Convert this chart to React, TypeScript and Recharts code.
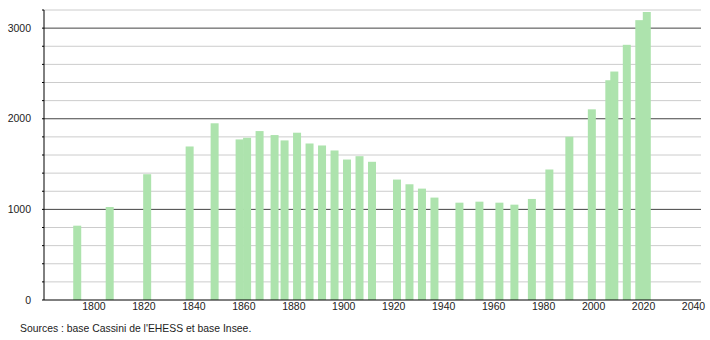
import React from 'react';
import {
    BarChart, Bar, XAxis, YAxis, CartesianGrid
} from 'recharts';

// census years and population
const years = [
    1793, 1806, 1821, 1838, 1848, 1858, 1861, 1866, 1872, 1876,
    1881, 1886, 1891, 1896, 1901, 1906, 1911, 1921, 1926, 1931,
    1936, 1946, 1954, 1962, 1968, 1975, 1982, 1990, 1999, 2006,
    2008, 2013, 2018, 2021
];
const population = [
    820, 1026, 1388, 1694, 1950, 1772, 1790, 1864, 1820, 1761,
    1846, 1727, 1705, 1650, 1550, 1587, 1525, 1329, 1277, 1229,
    1130, 1074, 1085, 1074, 1052, 1115, 1440, 1802, 2104, 2425,
    2521, 2816, 3088, 3178
];
const xTicks = [1800, 1820, 1840, 1860, 1880, 1900, 1920, 1940, 1960, 1980, 2000, 2020, 2040];
const yTicks = [0, 200, 400, 600, 800, 1000, 1200, 1400, 1600, 1800, 2000, 2200, 2400, 2600, 2800, 3000, 3200];
const majorLines = [1000, 2000, 3000];
const minorLines = yTicks.filter(v => v > 0 && v % 1000 !== 0);

const data = years.map((year, i) => ({year, pop: population[i]}));

const FONT = '"Liberation Sans", Arial, sans-serif';

// bars are 8px wide, sitting a hair right of the census year like the original
const NarrowBar = (props:any) => {
    const {x, y, width, height, fill} = props;
    const cx = x + width/2 + 1;
    return <rect x={cx-4} y={y} width={8} height={height} fill={fill}/>
}

const App = () => {
    return (
        <div style={{position: 'absolute', left: 0, top: 0, width: 710, height: 340, background: '#fff', fontFamily: FONT}}>
            <BarChart width={710} height={340} data={data} margin={{top: 10, right: 9, left: 0, bottom: 0}}>
                <CartesianGrid vertical={false} stroke="#cccccc" horizontalValues={minorLines}/>
                <CartesianGrid vertical={false} stroke="#444444" horizontalValues={majorLines}/>
                <XAxis dataKey="year" type="number" domain={[1780, 2043]} ticks={xTicks}
                       allowDataOverflow tickLine={false} tickSize={0} tickMargin={3} height={40}
                       axisLine={{stroke: '#000'}}
                       tick={{fontSize: 10.5, fill: '#222', fontFamily: FONT}}/>
                <YAxis type="number" domain={[0, 3200]} ticks={yTicks} width={44} interval={0}
                       tickFormatter={(v:number) => v % 1000 === 0 ? String(v) : ''}
                       tickSize={2} tickMargin={11} axisLine={{stroke: '#000'}} tickLine={{stroke: '#000'}}
                       tick={{fontSize: 10.5, fill: '#222', fontFamily: FONT}}/>
                <Bar dataKey="pop" fill="#ade3ad" barSize={8} shape={<NarrowBar/>} isAnimationActive={false}/>
            </BarChart>
            <div style={{position: 'absolute', left: 20, top: 323, fontSize: 10.4, color: '#222', fontFamily: FONT}}>
                Sources : base Cassini de l'EHESS et base Insee.
            </div>
        </div>
    );
}

export default App;
